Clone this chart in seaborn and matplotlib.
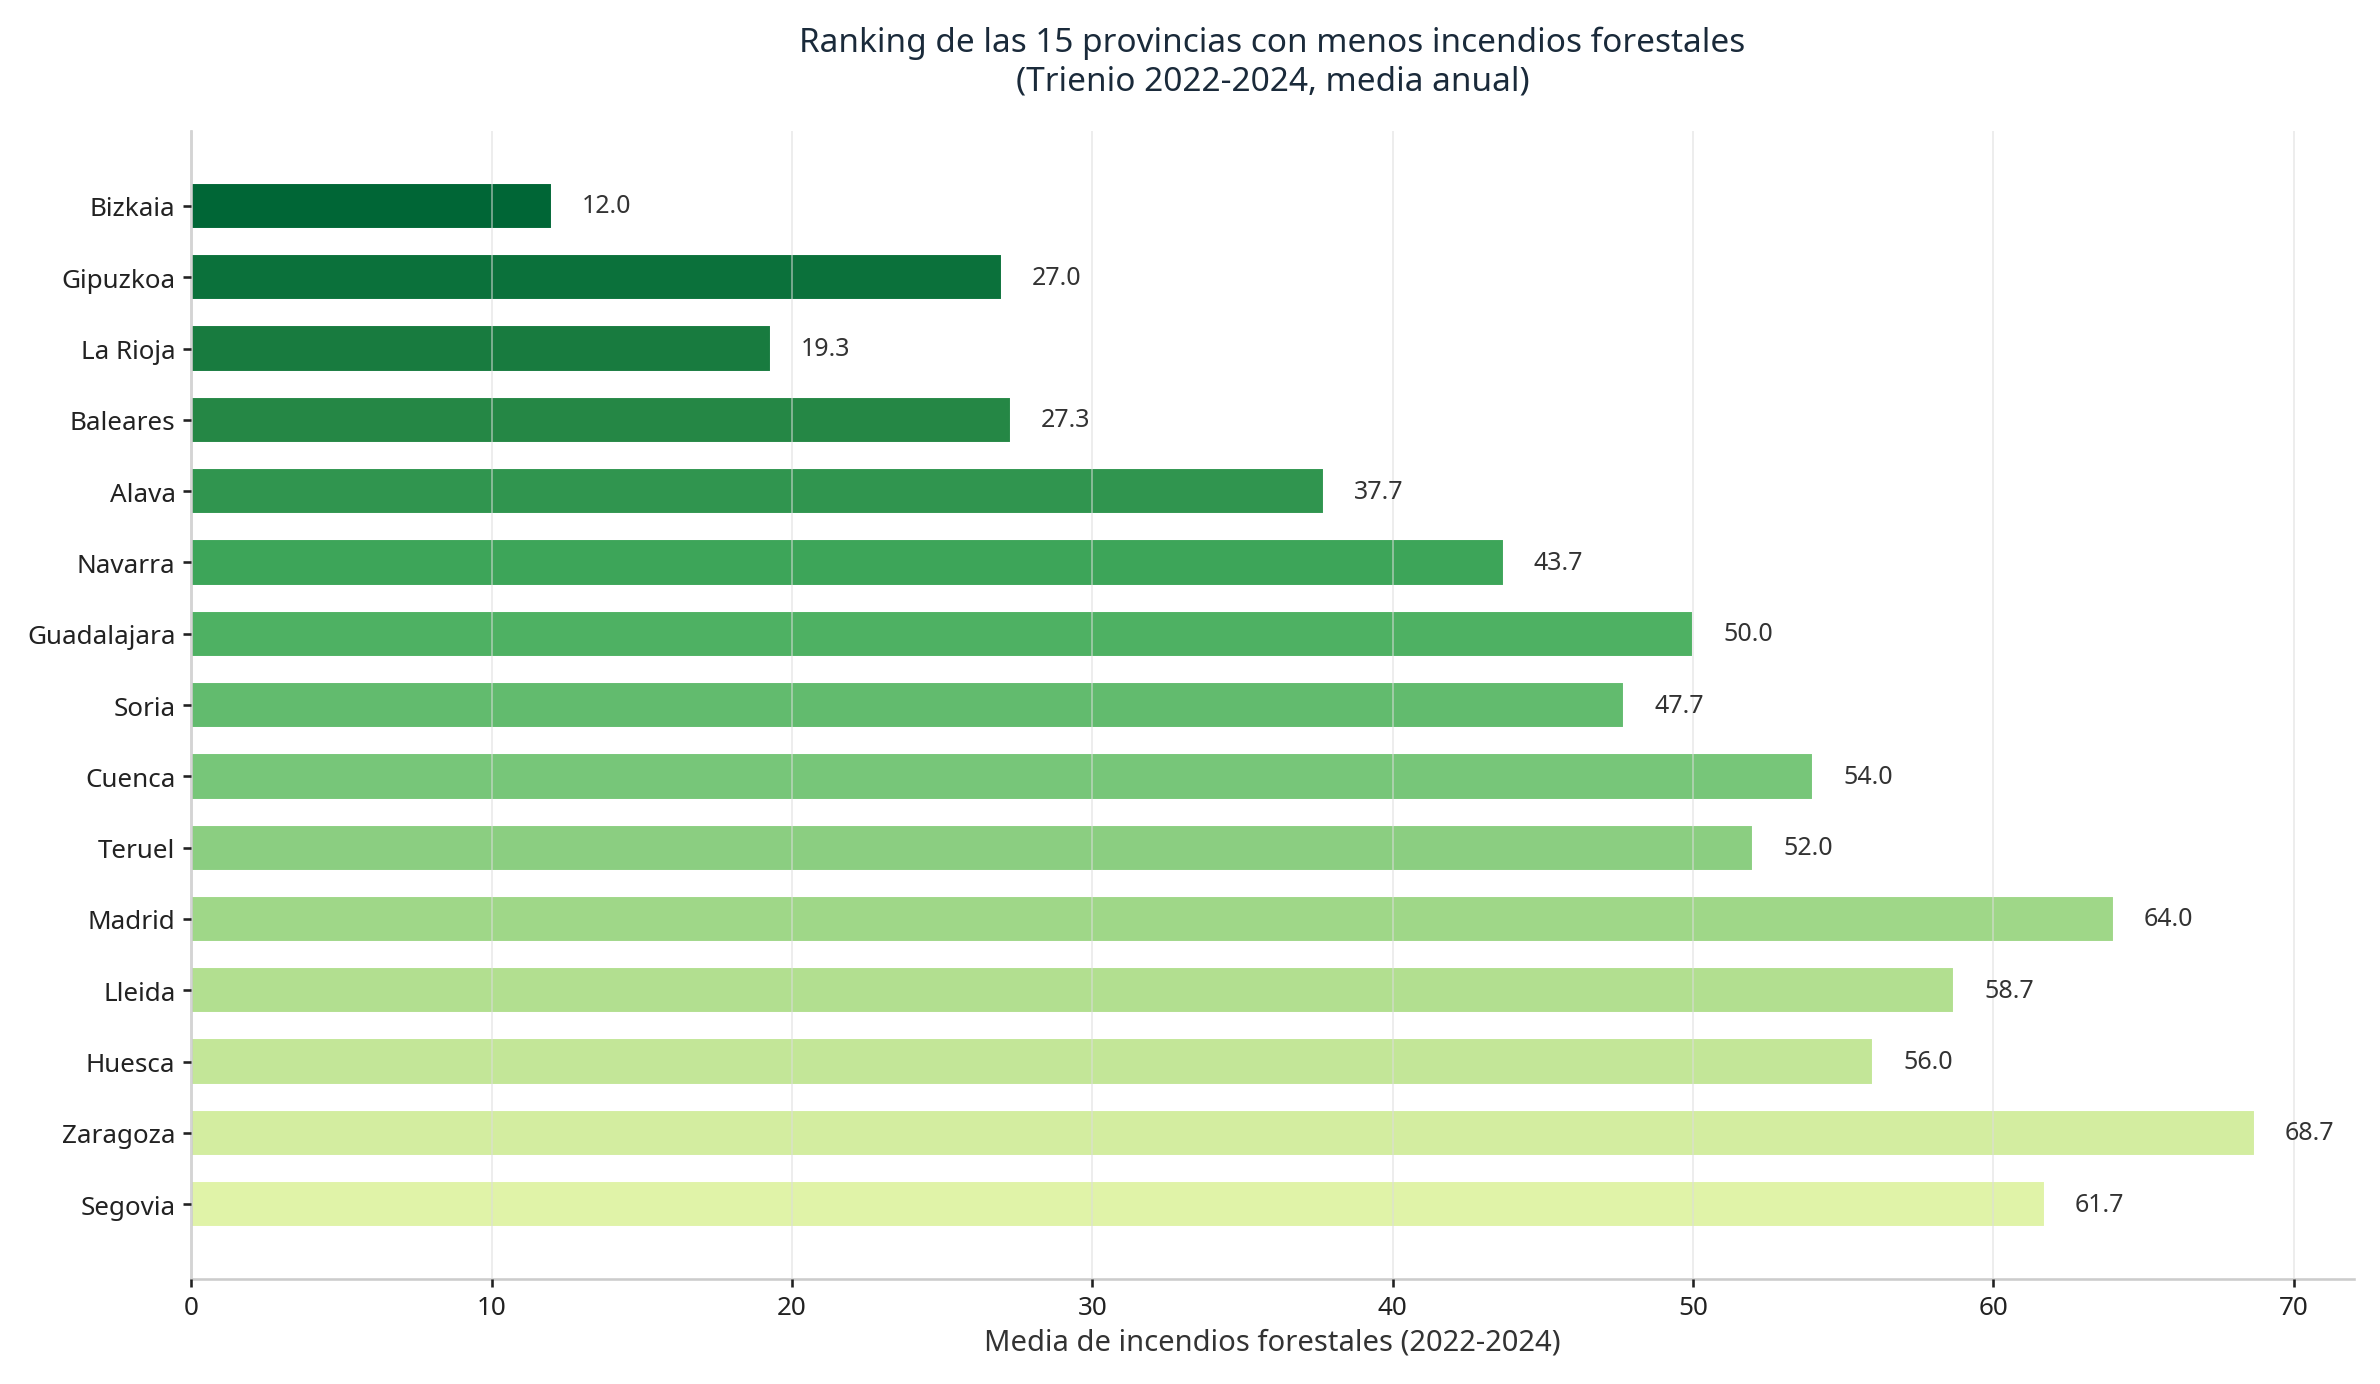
import matplotlib
matplotlib.use("Agg")
import matplotlib.pyplot as plt
import seaborn as sns
import numpy as np
import pandas as pd

provincias = ["Bizkaia","Gipuzkoa","La Rioja","Baleares","Alava","Navarra","Guadalajara","Soria",
              "Cuenca","Teruel","Madrid","Lleida","Huesca","Zaragoza","Segovia"]
valores = [12.0,27.0,19.3,27.3,37.7,43.7,50.0,47.7,54.0,52.0,64.0,58.7,56.0,68.7,61.7]

sns.set_theme(style="white")
plt.rcParams['font.family'] = ['Noto Sans', 'DejaVu Sans']

df = pd.DataFrame({"prov": provincias, "val": valores})
cmap = plt.get_cmap("YlGn")
colors = [cmap(v) for v in np.linspace(0.88, 0.22, len(provincias))]

fig, ax = plt.subplots(figsize=(15.873, 9.233), dpi=150)
sns.barplot(data=df, y="prov", x="val", hue="prov", palette=colors, legend=False,
            orient="h", width=0.65, saturation=1, ax=ax, zorder=2)
ax.set_axisbelow(False)
ax.grid(axis="x", color="#dddddd", alpha=0.6, linewidth=0.8, zorder=3)
for i, v in enumerate(valores):
    ax.text(v + 1.0, i, f"{v:.1f}", va="center", ha="left", fontsize=12, color="#333333")
ax.set_xlim(0, 72)
ax.set_ylim(len(provincias) - 1 + 1.05, -1.05)
ax.set_xticks(range(0, 71, 10))
ax.set_ylabel("")
ax.set_xlabel("Media de incendios forestales (2022-2024)", fontsize=14, color="#333333")
ax.set_title("Ranking de las 15 provincias con menos incendios forestales\n(Trienio 2022-2024, media anual)",
             fontsize=16, color="#1a2a3a", pad=20)
ax.tick_params(axis="both", labelsize=12.5, colors="#222222", length=4, left=True, bottom=True)
for s in ["top", "right"]:
    ax.spines[s].set_visible(False)
for s in ["left", "bottom"]:
    ax.spines[s].set_color("#cccccc")
plt.tight_layout()
plt.savefig("out.png", dpi=150)
